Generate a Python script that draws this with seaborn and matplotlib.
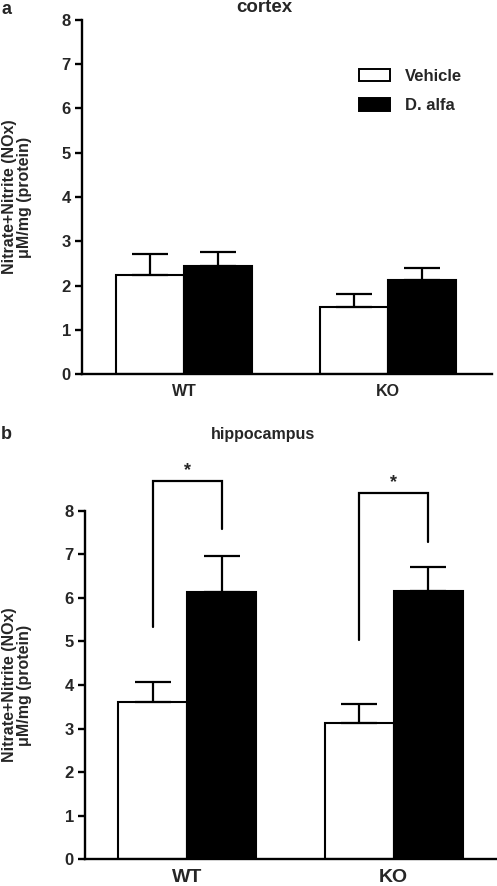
import matplotlib
matplotlib.use("Agg")
import matplotlib.pyplot as plt
import seaborn as sns
import pandas as pd
import numpy as np
from matplotlib.patches import Patch

sns.set_theme(style="ticks")
plt.rcParams['font.family'] = ['Liberation Sans', 'DejaVu Sans']
plt.rcParams['font.weight'] = 'bold'

genotypes = ["WT", "KO"]
treatments = ["Vehicle", "D. alfa"]
cortex_vehicle = [2.24, 1.52]
cortex_dalfa = [2.44, 2.13]
cortex_vehicle_err = [0.47, 0.28]
cortex_dalfa_err = [0.31, 0.26]
hippo_vehicle = [3.60, 3.12]
hippo_dalfa = [6.14, 6.16]
hippo_vehicle_err = [0.48, 0.44]
hippo_dalfa_err = [0.82, 0.54]
yticks = [0, 1, 2, 3, 4, 5, 6, 7, 8]
ylabel = "Nitrate+Nitrite (NOx)\n\u03bcM/mg (protein)"

W, H = 497, 886
fig = plt.figure(figsize=(W / 100, H / 100), dpi=100)

def frame(vehicle, dalfa):
    return pd.DataFrame({
        "genotype": genotypes * 2,
        "treatment": [treatments[0]] * 2 + [treatments[1]] * 2,
        "value": list(vehicle) + list(dalfa),
    })

def draw(ax, vehicle, dalfa, verr, derr, xlim, xfs, xpad):
    df = frame(vehicle, dalfa)
    sns.barplot(data=df, x="genotype", y="value", hue="treatment",
                order=genotypes, hue_order=treatments,
                palette={"Vehicle": "white", "D. alfa": "black"},
                edgecolor="black", linewidth=1.5, width=0.667,
                errorbar=None, legend=False, ax=ax, saturation=1)
    centers = {}
    for cont, vals, errs, t in zip(ax.containers, [vehicle, dalfa], [verr, derr], treatments):
        xs = [p.get_x() + p.get_width() / 2 for p in cont.patches]
        centers[t] = xs
        ax.errorbar(xs, vals, yerr=[np.zeros(len(vals)), errs], fmt="none",
                    ecolor="black", elinewidth=1.6, capsize=13, capthick=1.6, zorder=1)
    ax.set_ylim(0, 8)
    ax.set_yticks(yticks)
    ax.set_xlim(*xlim)
    sns.despine(ax=ax)
    for s in ["left", "bottom"]:
        ax.spines[s].set_linewidth(1.7)
        ax.spines[s].set_color("black")
    ax.tick_params(axis="y", length=5, width=1.7, labelsize=12, color="black", pad=3)
    ax.tick_params(axis="x", length=0, labelsize=xfs, pad=xpad)
    for lab in ax.get_yticklabels() + ax.get_xticklabels():
        lab.set_fontweight("bold")
    ax.set_xlabel("")
    ax.set_ylabel(ylabel, fontsize=11.5, fontweight="bold", linespacing=1.0)
    ax.set_facecolor("white")
    return centers

# Panel a
ax1 = fig.add_axes([82 / W, 1 - 374 / H, (492 - 82) / W, (374 - 20) / H])
draw(ax1, cortex_vehicle, cortex_dalfa, cortex_vehicle_err, cortex_dalfa_err, (-0.5, 1.51), 11.5, 7)
ax1.yaxis.set_label_coords(-(82 - 32) / 410, 0.5)
fig.text(264 / W, 1 - 8 / H, "cortex", ha="center", va="center", fontsize=13.5, fontweight="bold")
fig.text(1 / W, 1 - 9 / H, "a", ha="left", va="center", fontsize=13, fontweight="bold")
handles = [Patch(facecolor="white", edgecolor="black", linewidth=1.4, label="Vehicle"),
           Patch(facecolor="black", edgecolor="black", linewidth=1.4, label="D. alfa")]
leg = ax1.legend(handles=handles, loc="upper left", bbox_to_anchor=((352 - 82) / 410, (374 - 62) / 354),
                 frameon=False, fontsize=12, handlelength=1.9, handleheight=0.8,
                 labelspacing=0.85, handletextpad=0.9, borderaxespad=0)
for t in leg.get_texts():
    t.set_fontweight("bold")

# Panel b
ax2 = fig.add_axes([85 / W, 1 - 859.3 / H, (497 - 85) / W, (859.3 - 510.7) / H])
centers = draw(ax2, hippo_vehicle, hippo_dalfa, hippo_vehicle_err, hippo_dalfa_err, (-0.495, 1.5), 14, 7)
ax2.yaxis.set_label_coords(-(85 - 32) / 412, 0.5)
fig.text(263 / W, 1 - 435 / H, "hippocampus", ha="center", va="center", fontsize=11.5, fontweight="bold")
fig.text(1 / W, 1 - 434 / H, "b", ha="left", va="center", fontsize=13, fontweight="bold")

# significance brackets (left foot, top, right foot)
brackets = [(5.33, 8.68, 7.58), (5.03, 8.41, 7.28)]
for i, (yl, yt, yr) in enumerate(brackets):
    xl = centers["Vehicle"][i]
    xr = centers["D. alfa"][i]
    ax2.plot([xl, xl, xr, xr], [yl, yt, yt, yr], color="black", lw=1.6,
             clip_on=False, solid_joinstyle="miter")
    ax2.text((xl + xr) / 2, yt + 0.05, "*", ha="center", va="bottom",
             fontsize=13, fontweight="bold", clip_on=False)

fig.savefig("out.png", dpi=100, facecolor="white")
